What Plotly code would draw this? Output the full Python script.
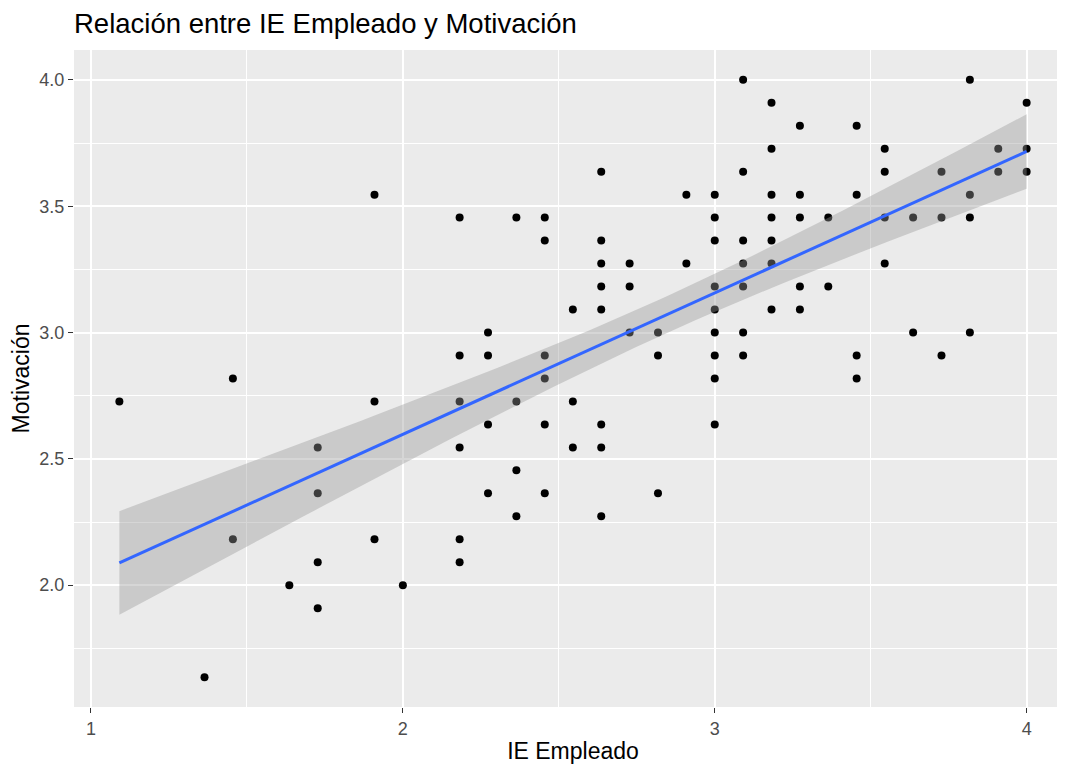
import numpy as np
import plotly.graph_objects as go

# IE Empleado (x) and Motivación (y) values
ie_empleado = [
    1.091, 1.364, 1.455, 1.455, 1.636,
    1.727, 1.727, 1.727, 1.727,
    1.909, 1.909, 1.909, 2.0,
    2.182, 2.182, 2.182, 2.182, 2.182, 2.182,
    2.273, 2.273, 2.273, 2.273,
    2.364, 2.364, 2.364, 2.364,
    2.455, 2.455, 2.455, 2.455, 2.455, 2.455,
    2.545, 2.545, 2.545,
    2.636, 2.636, 2.636, 2.636, 2.636, 2.636, 2.636, 2.636,
    2.727, 2.727, 2.727,
    2.818, 2.818, 2.818,
    2.909, 2.909,
    3.0, 3.0, 3.0, 3.0, 3.0, 3.0, 3.0, 3.0, 3.0,
    3.091, 3.091, 3.091, 3.091, 3.091, 3.091, 3.091,
    3.182, 3.182, 3.182, 3.182, 3.182, 3.182, 3.182,
    3.273, 3.273, 3.273, 3.273, 3.273,
    3.364, 3.364,
    3.455, 3.455, 3.455, 3.455,
    3.545, 3.545, 3.545, 3.545,
    3.636, 3.636,
    3.727, 3.727, 3.727,
    3.818, 3.818, 3.818, 3.818,
    3.909, 3.909,
    4.0, 4.0, 4.0,
]
motivacion = [
    2.727, 1.636, 2.818, 2.182, 2.0,
    2.545, 2.364, 2.091, 1.909,
    3.545, 2.727, 2.182, 2.0,
    3.455, 2.909, 2.727, 2.545, 2.182, 2.091,
    3.0, 2.909, 2.636, 2.364,
    3.455, 2.727, 2.455, 2.273,
    3.455, 3.364, 2.909, 2.818, 2.636, 2.364,
    3.091, 2.727, 2.545,
    3.636, 3.364, 3.273, 3.182, 3.091, 2.636, 2.545, 2.273,
    3.273, 3.182, 3.0,
    3.0, 2.909, 2.364,
    3.545, 3.273,
    3.545, 3.455, 3.364, 3.182, 3.091, 3.0, 2.909, 2.818, 2.636,
    4.0, 3.636, 3.364, 3.273, 3.182, 3.0, 2.909,
    3.909, 3.727, 3.545, 3.455, 3.364, 3.273, 3.091,
    3.818, 3.545, 3.455, 3.182, 3.091,
    3.455, 3.182,
    3.818, 3.545, 2.909, 2.818,
    3.727, 3.636, 3.455, 3.273,
    3.455, 3.0,
    3.636, 3.455, 2.909,
    4.0, 3.545, 3.455, 3.0,
    3.727, 3.636,
    3.909, 3.727, 3.636,
]

x_ticks = [1, 2, 3, 4]
y_ticks = [2.0, 2.5, 3.0, 3.5, 4.0]

# linear model with 95% confidence band (like geom_smooth(method = "lm"))
x = np.array(ie_empleado)
y = np.array(motivacion)
n = len(x)
b1, b0 = np.polyfit(x, y, 1)
resid = y - (b0 + b1 * x)
s = np.sqrt(np.sum(resid ** 2) / (n - 2))
xm = x.mean()
sxx = np.sum((x - xm) ** 2)
t_q = 1.9835
xs = np.linspace(x.min(), x.max(), 80)
ys = b0 + b1 * xs
se = s * np.sqrt(1.0 / n + (xs - xm) ** 2 / sxx)
lo = ys - t_q * se
hi = ys + t_q * se

fig = go.Figure()
fig.add_trace(go.Scatter(
    x=ie_empleado, y=motivacion, mode="markers",
    marker=dict(color="black", size=8, line=dict(width=0)),
    showlegend=False, hoverinfo="x+y",
))
fig.add_trace(go.Scatter(
    x=np.concatenate([xs, xs[::-1]]), y=np.concatenate([hi, lo[::-1]]),
    mode="lines", fill="toself", fillcolor="rgba(153,153,153,0.4)",
    line=dict(width=0), showlegend=False, hoverinfo="skip",
))
fig.add_trace(go.Scatter(
    x=xs, y=ys, mode="lines", line=dict(color="#3366FF", width=3),
    showlegend=False,
))

font_family = "Arial, Liberation Sans, sans-serif"
xmin, xmax = x.min(), x.max()
ymin, ymax = y.min(), y.max()
xpad = 0.05 * (xmax - xmin)
ypad = 0.05 * (ymax - ymin)

# the page body adds an 8px margin; the figure is sized to compensate
W, H = 1064, 756
fig.update_layout(
    width=W, height=H,
    margin=dict(l=66, r=0, t=42, b=57),
    plot_bgcolor="#EBEBEB", paper_bgcolor="white",
    font=dict(family=font_family, color="black"),
    title=dict(
        text="Relación entre IE Empleado y Motivación",
        font=dict(size=27.5, color="black", family=font_family),
        x=66 / W, xanchor="left", xref="container",
        y=1 - 15 / H, yanchor="middle", yref="container",
    ),
    xaxis=dict(
        range=[xmin - xpad, xmax + xpad],
        tickvals=x_ticks, ticktext=[str(v) for v in x_ticks],
        ticks="outside", ticklen=5, tickwidth=1, tickcolor="#333333",
        tickfont=dict(size=18, color="#4D4D4D"),
        showgrid=True, gridcolor="white", gridwidth=2,
        zeroline=False, showline=False,
        minor=dict(tickvals=[1.5, 2.5, 3.5], showgrid=True,
                   gridcolor="white", gridwidth=1, ticks=""),
        title=dict(text="IE Empleado", font=dict(size=23, color="black"),
                   standoff=6),
    ),
    yaxis=dict(
        range=[ymin - ypad, ymax + ypad],
        tickvals=y_ticks, ticktext=[f"{v:.1f}" for v in y_ticks],
        ticks="outside", ticklen=5, tickwidth=1, tickcolor="#333333",
        tickfont=dict(size=18, color="#4D4D4D"),
        showgrid=True, gridcolor="white", gridwidth=2,
        zeroline=False, showline=False,
        minor=dict(tickvals=[1.75, 2.25, 2.75, 3.25, 3.75], showgrid=True,
                   gridcolor="white", gridwidth=1, ticks=""),
        title=dict(text="Motivación", font=dict(size=23, color="black"),
                   standoff=5),
    ),
)

fig.write_html("out.html")
